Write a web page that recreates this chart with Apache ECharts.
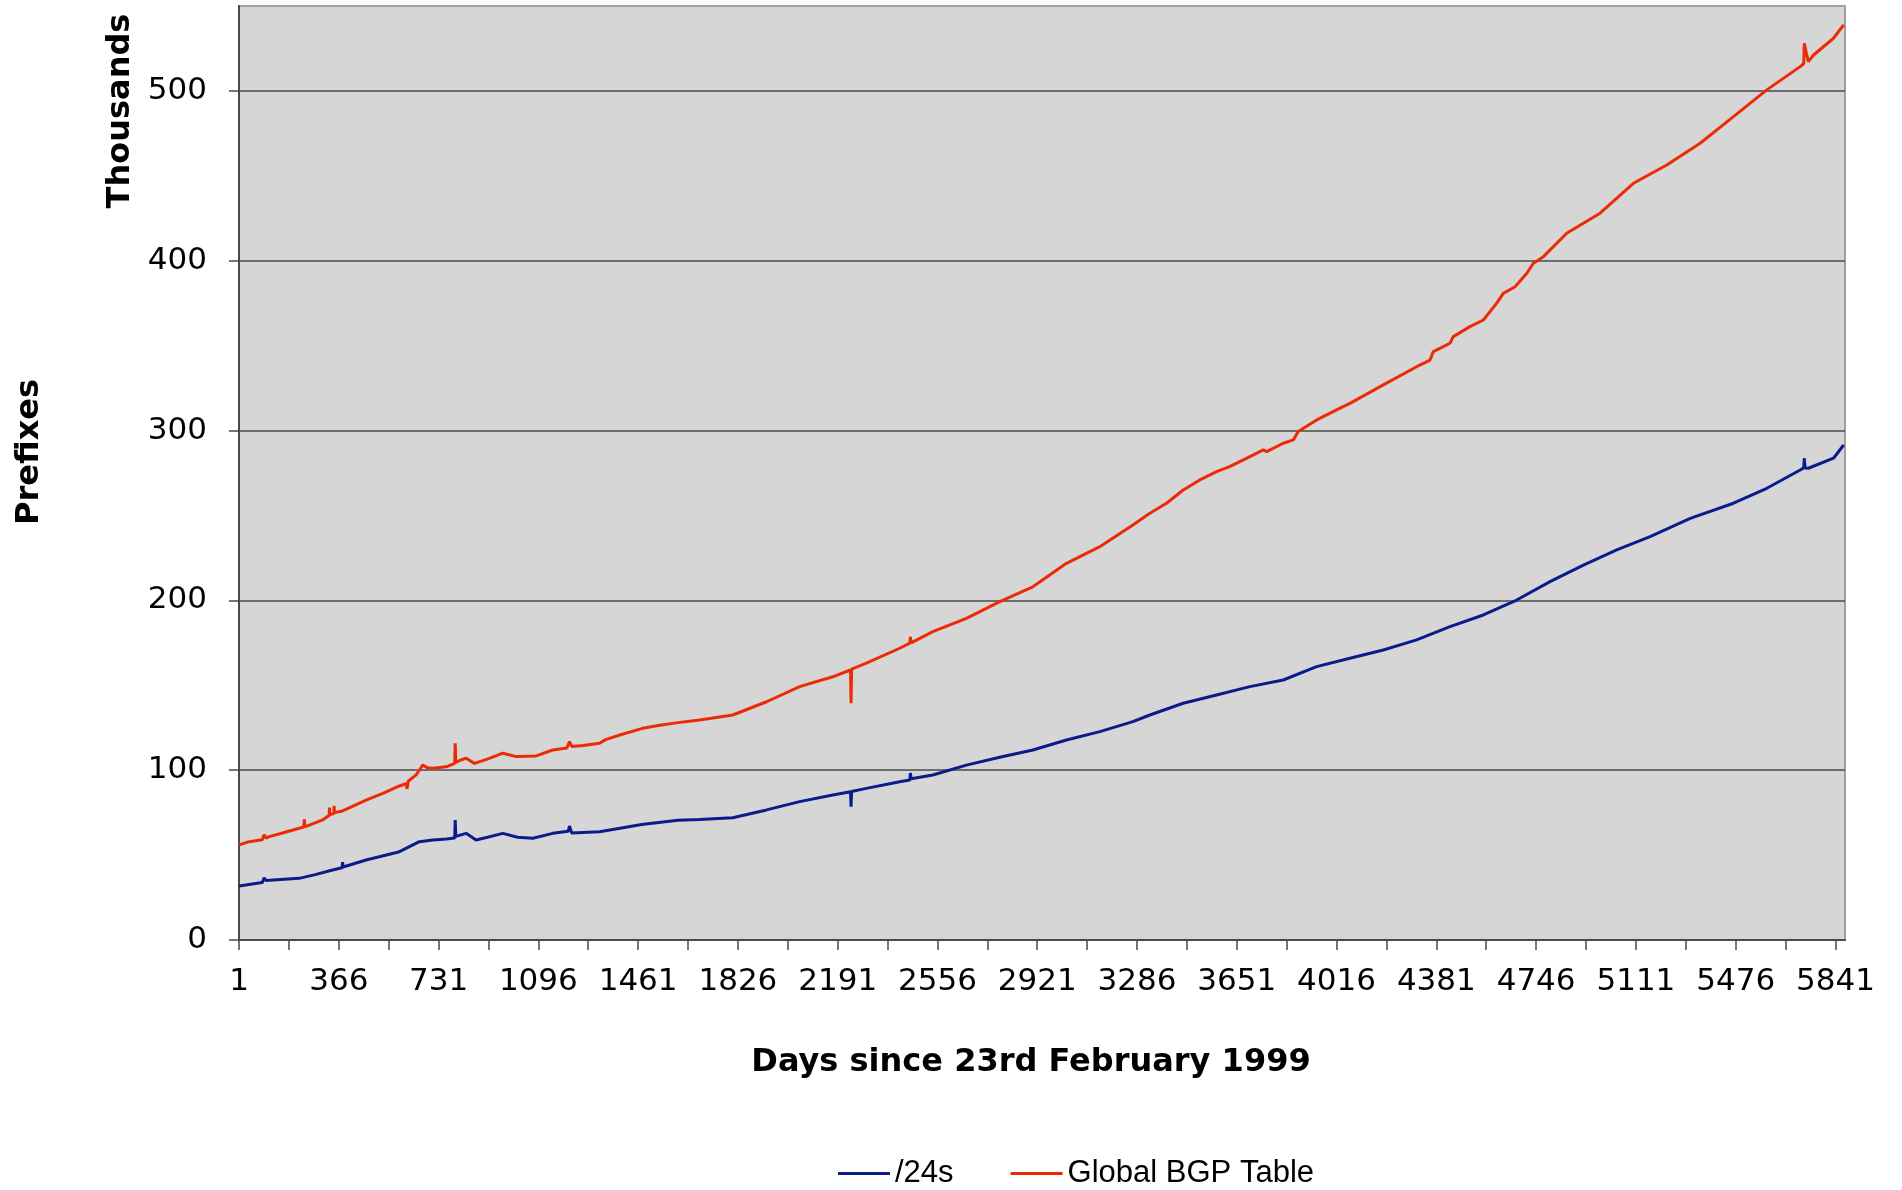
<!DOCTYPE html>
<html>
<head>
<meta charset="utf-8">
<title>Prefixes - Global BGP Table</title>
<script src="https://cdn.jsdelivr.net/npm/echarts@6/dist/echarts.min.js"></script>
<style>
  html, body { margin: 0; padding: 0; background: #fff; }
  #chart { width: 1902px; height: 1190px; }
</style>
</head>
<body>
<div id="chart"></div>
<script>
// 坐标轴标签
let xLabels = ['1', '366', '731', '1096', '1461', '1826', '2191', '2556', '2921', '3286', '3651', '4016', '4381', '4746', '5111', '5476', '5841']
let yLabels = ['0', '100', '200', '300', '400', '500']

// Global BGP Table (thousands)
let bgpDays = [1, 38, 86, 93, 100, 112, 160, 221, 238, 240, 242, 307, 331, 332, 333, 348, 349, 350, 380, 420, 466, 527, 588, 612, 616, 620, 649, 665, 673, 690, 710, 759, 790, 792, 794, 812, 832, 862, 890, 917, 966, 1015, 1088, 1149, 1200, 1210, 1218, 1260, 1320, 1342, 1400, 1474, 1540, 1607, 1686, 1807, 1931, 2052, 2173, 2238, 2240, 2242, 2296, 2418, 2455, 2457, 2460, 2539, 2662, 2784, 2905, 3028, 3150, 3271, 3333, 3394, 3455, 3516, 3577, 3625, 3699, 3748, 3760, 3821, 3858, 3876, 3943, 3967, 4040, 4065, 4187, 4309, 4358, 4370, 4431, 4443, 4504, 4553, 4602, 4626, 4669, 4712, 4736, 4773, 4858, 4980, 5102, 5224, 5346, 5468, 5590, 5712, 5725, 5727, 5735, 5742, 5760, 5834, 5871]
let bgpValues = [56, 57.9, 59, 62, 60, 60.9, 63, 65.8, 66.5, 71, 66.6, 70.7, 73.5, 78, 73.8, 74.5, 79, 75, 76, 79, 82.4, 86.4, 90.7, 92, 89, 93.5, 97.2, 101, 103, 101.5, 101.1, 102, 104, 115.8, 104.5, 106, 107, 104, 105.5, 107, 110, 108, 108.4, 111.9, 113, 116.8, 114, 114.5, 115.8, 118, 121, 124.5, 126.5, 128, 129.6, 132.5, 140.3, 149.2, 155, 159, 139.4, 159.5, 163, 171.8, 174.8, 178.5, 175, 181.6, 189.4, 199.3, 208, 221.8, 231.6, 244.4, 251.3, 257.2, 265, 270.9, 275.8, 278.7, 284.6, 288.6, 287.6, 292.5, 294.5, 299.4, 306.2, 308.2, 314.1, 316, 326.9, 337.6, 341.5, 346.5, 351.4, 355.3, 361.2, 365.1, 375, 380.8, 384.7, 392.6, 398.5, 402.4, 416.2, 428, 445.6, 456.4, 469.2, 484.9, 500.6, 514.3, 516, 528, 522, 517.2, 521, 531, 538.9]

// /24s (thousands)
let s24Days = [1, 86, 90, 93, 100, 221, 280, 343, 378, 380, 382, 466, 588, 661, 710, 760, 790, 792, 794, 832, 868, 910, 966, 1020, 1076, 1149, 1205, 1210, 1218, 1320, 1400, 1474, 1607, 1686, 1807, 1931, 2052, 2173, 2238, 2240, 2242, 2296, 2418, 2455, 2457, 2460, 2539, 2662, 2784, 2905, 3028, 3150, 3271, 3333, 3455, 3577, 3699, 3821, 3943, 4065, 4187, 4309, 4431, 4553, 4675, 4797, 4919, 5041, 5163, 5310, 5468, 5590, 5712, 5725, 5727, 5730, 5742, 5834, 5871]
let s24Values = [31.8, 33.8, 34, 36.6, 35, 36.3, 38.5, 41.2, 42.5, 45.9, 43, 47.1, 52, 57.9, 58.9, 59.5, 60, 70.7, 61, 62.8, 58.9, 60.5, 62.8, 60.5, 59.9, 62.8, 64, 67.1, 63, 63.8, 66, 68, 70.5, 71, 72, 76.6, 81.5, 85.4, 87.3, 78.5, 87.5, 89.3, 93.2, 94.2, 98.3, 95, 97.2, 103, 107.6, 111.9, 117.8, 122.7, 128.6, 132.5, 139.4, 144.3, 149.2, 153.1, 161, 165.9, 170.8, 176.7, 184.5, 191.4, 200.2, 211, 220.8, 229.7, 237.5, 248.3, 257.2, 266, 276.8, 278, 283.7, 278, 277.8, 283.7, 291.5]

let labelDays = xLabels.map(Number)
let yTicks = yLabels.map(Number)
// 刻度线: 每两个标签之间多一个
let tickDays = []
labelDays.forEach((d, i) => {
  tickDays.push(d)
  if (i < labelDays.length - 1) tickDays.push((d + labelDays[i + 1]) / 2)
})

let pairs = (xs, ys) => xs.map((x, i) => [x, ys[i]])

let axisColor = '#4a4a4a'
let tickFont = { fontFamily: 'DejaVu Sans', fontSize: 31, color: '#000' }

let myChart = echarts.init(document.getElementById('chart'))
myChart.setOption({
  animation: false,
  backgroundColor: '#fff',
  grid: {
    left: 239, right: 57, top: 6, bottom: 250,
    show: true,
    backgroundColor: '#d6d6d6',
    borderColor: '#a0a0a0',
    borderWidth: 2
  },
  xAxis: {
    type: 'value',
    min: 1,
    max: 5876,
    axisLine: { lineStyle: { color: axisColor, width: 2 } },
    axisTick: { customValues: tickDays, length: 10, lineStyle: { color: axisColor, width: 1.5 } },
    axisLabel: Object.assign({ customValues: labelDays, margin: 26, formatter: v => String(v) }, tickFont),
    splitLine: { show: false }
  },
  yAxis: {
    type: 'value',
    min: 0,
    max: 550,
    interval: 100,
    axisLine: { show: true, lineStyle: { color: axisColor, width: 2 } },
    axisTick: { show: true, customValues: yTicks, length: 10, lineStyle: { color: axisColor, width: 1.5 } },
    axisLabel: Object.assign({ customValues: yTicks, margin: 32, formatter: v => String(v) }, tickFont),
    splitLine: { show: true, lineStyle: { color: axisColor, width: 1.5 } }
  },
  legend: {
    data: ['/24s', 'Global BGP Table'],
    left: 833,
    top: 1153,
    icon: 'rect',
    itemWidth: 52,
    itemHeight: 3,
    itemGap: 57,
    textStyle: { fontFamily: 'Liberation Sans', fontSize: 31, color: '#000' }
  },
  graphic: [
    {
      type: 'text', x: 121, y: 111, rotation: Math.PI / 2,
      style: { text: 'Thousands', font: 'bold 32px "DejaVu Sans"', fill: '#000', align: 'center', verticalAlign: 'middle' }
    },
    {
      type: 'text', x: 30, y: 452, rotation: Math.PI / 2,
      style: { text: 'Prefixes', font: 'bold 32px "DejaVu Sans"', fill: '#000', align: 'center', verticalAlign: 'middle' }
    },
    {
      type: 'text', x: 1031, y: 1063,
      style: { text: 'Days since 23rd February 1999', font: 'bold 32px "DejaVu Sans"', fill: '#000', align: 'center', verticalAlign: 'middle' }
    }
  ],
  series: [
    {
      name: '/24s',
      type: 'line',
      data: pairs(s24Days, s24Values),
      showSymbol: false,
      color: '#0a1c8c',
      lineStyle: { width: 3 }
    },
    {
      name: 'Global BGP Table',
      type: 'line',
      data: pairs(bgpDays, bgpValues),
      showSymbol: false,
      color: '#ec2a06',
      lineStyle: { width: 3 }
    }
  ]
})
</script>
</body>
</html>
